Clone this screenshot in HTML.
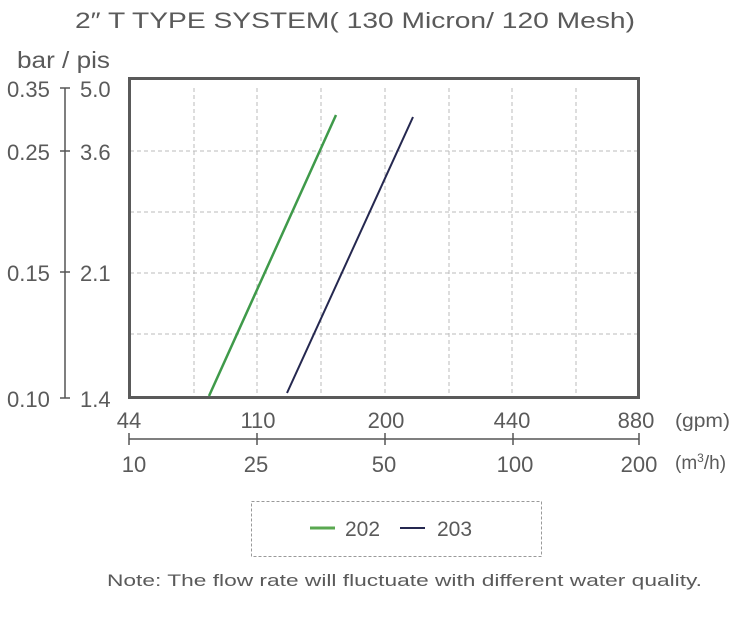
<!DOCTYPE html>
<html><head><meta charset="utf-8"><style>
body{margin:0;background:#fff;}
svg text{font-family:"Liberation Sans",sans-serif;fill:#5a5a5a;}
</style></head><body>
<svg width="744" height="616" viewBox="0 0 744 616" xmlns="http://www.w3.org/2000/svg">
<text x="75" y="28" font-size="22" textLength="560" lengthAdjust="spacingAndGlyphs">2″ T TYPE SYSTEM( 130 Micron/ 120 Mesh)</text>
<text x="17" y="68" font-size="23" textLength="93" lengthAdjust="spacingAndGlyphs">bar / pis</text>
<!-- grid -->
<g stroke="#bbb" stroke-width="1" stroke-dasharray="4,3">
<line x1="194" y1="88" x2="194" y2="398"/><line x1="257" y1="88" x2="257" y2="398"/>
<line x1="321" y1="88" x2="321" y2="398"/><line x1="385" y1="88" x2="385" y2="398"/>
<line x1="449" y1="88" x2="449" y2="398"/><line x1="512" y1="88" x2="512" y2="398"/>
<line x1="576" y1="88" x2="576" y2="398"/>
<line x1="130" y1="151" x2="638" y2="151"/><line x1="130" y1="212" x2="638" y2="212"/>
<line x1="130" y1="273" x2="638" y2="273"/><line x1="130" y1="334" x2="638" y2="334"/>
</g>
<rect x="129.5" y="78.5" width="509" height="319" fill="none" stroke="#5a5a5a" stroke-width="3"/>
<line x1="209" y1="396" x2="336" y2="115" stroke="#3f9a4a" stroke-width="2.5"/>
<line x1="287" y1="393" x2="413" y2="117" stroke="#252850" stroke-width="2"/>
<!-- left axis -->
<g stroke="#555" stroke-width="1.5">
<line x1="65" y1="88" x2="65" y2="398"/>
<line x1="60" y1="88" x2="70" y2="88"/><line x1="60" y1="151" x2="70" y2="151"/>
<line x1="60" y1="272" x2="70" y2="272"/><line x1="60" y1="398" x2="70" y2="398"/>
</g>
<g font-size="22">
<text x="7" y="97">0.35</text><text x="80" y="97">5.0</text>
<text x="7" y="160">0.25</text><text x="80" y="160">3.6</text>
<text x="7" y="281">0.15</text><text x="80" y="281">2.1</text>
<text x="7" y="407">0.10</text><text x="80" y="407">1.4</text>
</g>
<!-- bottom axes -->
<g stroke="#555" stroke-width="1.5">
<line x1="129" y1="439" x2="639" y2="439"/>
<line x1="129" y1="433" x2="129" y2="445"/><line x1="257" y1="433" x2="257" y2="445"/>
<line x1="385" y1="433" x2="385" y2="445"/><line x1="513" y1="433" x2="513" y2="445"/>
<line x1="639" y1="433" x2="639" y2="445"/>
</g>
<g font-size="22" text-anchor="middle">
<text x="129" y="428">44</text><text x="258" y="428">110</text><text x="386" y="428">200</text>
<text x="512" y="428">440</text><text x="636" y="428">880</text>
<text x="134" y="472">10</text><text x="256" y="472">25</text><text x="384" y="472">50</text>
<text x="515" y="472">100</text><text x="639" y="472">200</text>
</g>
<text x="675" y="427" font-size="19" textLength="55" lengthAdjust="spacingAndGlyphs">(gpm)</text>
<text x="675" y="469" font-size="19">(m<tspan font-size="12" dy="-7">3</tspan><tspan dy="7">/h)</tspan></text>
<!-- legend -->
<rect x="251.5" y="501.5" width="290" height="55" fill="none" stroke="#999" stroke-width="1" stroke-dasharray="3,2"/>
<line x1="310" y1="528" x2="335" y2="528" stroke="#5aa850" stroke-width="3"/>
<text x="345" y="536" font-size="21">202</text>
<line x1="400" y1="528" x2="425" y2="528" stroke="#252850" stroke-width="2"/>
<text x="437" y="536" font-size="21">203</text>
<text x="107" y="586" font-size="17" textLength="595" lengthAdjust="spacingAndGlyphs">Note: The flow rate will fluctuate with different water quality.</text>
</svg>
</body></html>
